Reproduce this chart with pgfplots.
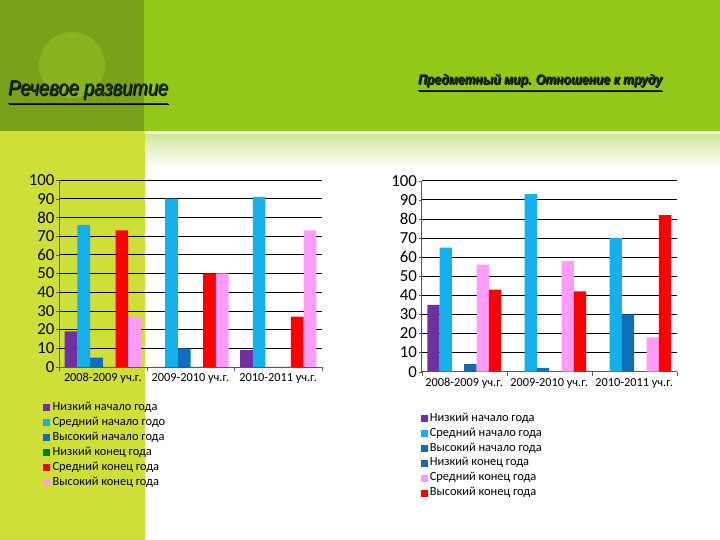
\documentclass[border=0pt]{standalone}
\usepackage{pgfplots}
\pgfplotsset{compat=1.18}
\usepackage{fontspec}
\setmainfont{Carlito}
\newfontfamily\titlefont{Liberation Sans}
\definecolor{bandgreen}{RGB}{146,201,24}
\definecolor{darkgreen}{RGB}{122,161,26}
\definecolor{circlegreen}{RGB}{136,181,30}
\definecolor{stripyellow}{RGB}{206,224,56}
\definecolor{gradgreen}{RGB}{208,231,150}
\definecolor{cpurple}{RGB}{112,48,160}
\definecolor{ccyan}{RGB}{20,176,236}
\definecolor{cdblue}{RGB}{16,110,188}
\definecolor{cblue2}{RGB}{28,104,170}
\definecolor{cgreen}{RGB}{0,128,0}
\definecolor{cred}{RGB}{255,0,0}
\definecolor{cpink}{RGB}{255,155,250}
\definecolor{titlefill}{RGB}{25,45,5}
\pgfplotsset{
  mysq/.style={legend image code/.code={\fill[##1] (0pt,-3.5pt) rectangle (7pt,3.5pt);}},
  mychart/.style={
    anchor=south west, scale only axis,
    ymin=0, ymax=100, xmin=-0.5, xmax=2.5,
    ytick={0,10,...,100},
    xtick={0,1,2},
    minor xtick={-0.5,0.5,1.5,2.5},
    major x tick style={draw=none},
    minor x tick style={gray!70!black},
    minor tick length=4pt,
    major tick length=3pt,
    tick align=outside,
    ytick style={gray!70!black},
    axis x line*=bottom, axis y line*=left,
    axis line style={gray!70!black, line width=0.6pt},
    ymajorgrids, grid style={black, line width=0.6pt},
    ybar=0pt,
    /pgf/number format/assume math mode=true,
    yticklabel style={font=\fontsize{16.8}{16.8}\selectfont, inner sep=1.5pt},
    xticklabel style={font=\fontsize{12.3}{13}\selectfont},
    legend cell align=left,
    legend style={draw=none, fill=none, inner sep=0pt, row sep=0pt,
      font=\fontsize{12.4}{13}\selectfont,
      nodes={text height=8pt, text depth=2.5pt, inner sep=2.2pt}},
    xticklabels={2008-2009 уч.г., 2009-2010 уч.г., 2010-2011 уч.г.},
  }
}
\begin{document}
\begin{tikzpicture}[x=1pt,y=1pt]
% background
\fill[white] (0,0) rectangle (720,540);
\fill[bandgreen] (0,409) rectangle (720,540);
\fill[darkgreen] (0,409) rectangle (144,540);
\fill[circlegreen] (72,475) circle (33);
\fill[stripyellow] (0,0) rectangle (145,409);
\shade[top color=gradgreen, bottom color=white] (145,406) rectangle (720,372);
\fill[white!85!bandgreen] (145,405.5) rectangle (720,408.5);
% titles
\node[anchor=base west, inner sep=0pt, text=black] at (9,443) {\resizebox{160pt}{15pt}{\titlefont\itshape\underline{Речевое развитие}}};
\node[anchor=base west, inner sep=0pt, text=titlefill] at (8,444) {\resizebox{160pt}{15pt}{\titlefont\itshape\underline{Речевое развитие}}};
\node[anchor=base west, inner sep=0pt, text=black] at (419,454) {\resizebox{244pt}{10.5pt}{\titlefont\itshape\bfseries\underline{Предметный мир. Отношение к труду}}};
\node[anchor=base west, inner sep=0pt, text=titlefill] at (418,455) {\resizebox{244pt}{10.5pt}{\titlefont\itshape\bfseries\underline{Предметный мир. Отношение к труду}}};

% left chart
\begin{axis}[mychart,
  at={(59pt,173pt)}, width=263pt, height=187pt,
  bar width=12.7pt,
  legend style={at={(rel axis cs:-0.06,-0.178)}, anchor=north west},
]
\addplot[fill=cpurple, draw=none, mysq] coordinates {(0,19) (1,0) (2,9)};
\addplot[fill=ccyan, draw=none, mysq] coordinates {(0,76) (1,90) (2,91)};
\addplot[fill=cdblue, draw=none, mysq] coordinates {(0,5) (1,10) (2,0)};
\addplot[fill=cgreen, draw=none, mysq] coordinates {(0,0) (1,0) (2,0)};
\addplot[fill=cred, draw=none, mysq] coordinates {(0,73) (1,50) (2,27)};
\addplot[fill=cpink, draw=none, mysq] coordinates {(0,27) (1,50) (2,73)};
\legend{Низкий начало года, Средний начало годо, Высокий начало года, Низкий конец года, Средний конец года, Высокий конец года}
\end{axis}

% right chart
\begin{axis}[mychart,
  at={(421.7pt,168.3pt)}, width=255pt, height=191pt,
  bar width=12.3pt,
  legend style={at={(rel axis cs:-0.005,-0.205)}, anchor=north west},
]
\addplot[fill=cpurple, draw=none, mysq] coordinates {(0,35) (1,0) (2,0)};
\addplot[fill=ccyan, draw=none, mysq] coordinates {(0,65) (1,93) (2,70)};
\addplot[fill=cdblue, draw=none, mysq] coordinates {(0,0) (1,2) (2,30)};
\addplot[fill=cblue2, draw=none, mysq] coordinates {(0,4) (1,0) (2,0)};
\addplot[fill=cpink, draw=none, mysq] coordinates {(0,56) (1,58) (2,18)};
\addplot[fill=cred, draw=none, mysq] coordinates {(0,43) (1,42) (2,82)};
\legend{Низкий начало года, Средний начало года, Высокий начало года, Низкий конец года, Средний конец года, Высокий конец года}
\end{axis}
\end{tikzpicture}
\end{document}
